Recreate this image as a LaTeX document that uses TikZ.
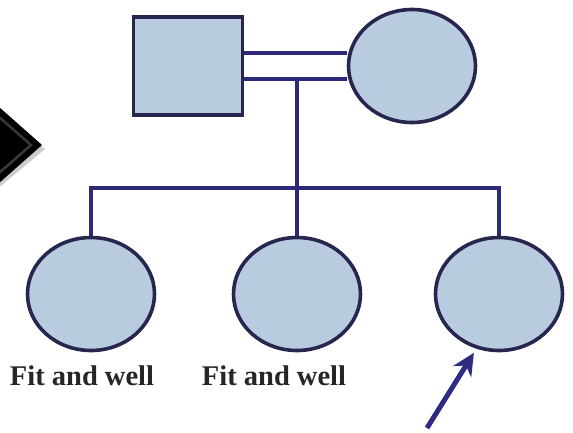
\documentclass[tikz,border=0pt]{standalone}
\usepackage{fontspec}
\setmainfont{Liberation Serif}
\usetikzlibrary{shapes.geometric,arrows.meta,backgrounds,calc}
\definecolor{pedfill}{HTML}{B9CCDF}
\definecolor{pededge}{HTML}{26264F}
\definecolor{pedline}{HTML}{2C2A78}
\definecolor{pointer}{HTML}{2E2C82}
\begin{document}
\begin{tikzpicture}[x=1pt,y=-1pt,
  person/.style={draw=pededge, fill=pedfill, line width=3.6pt, inner sep=0pt},
  female/.style={person, ellipse, minimum width=127pt, minimum height=113pt},
  male/.style={person, rectangle, minimum width=109pt, minimum height=98pt},
  link/.style={draw=pedline, line width=3.6pt},
  caption/.style={font=\bfseries\fontsize{28.5}{32}\selectfont, text=black!85, inner sep=0pt, anchor=base},
  pointerarrow/.style={draw=pointer, line width=5pt, -{Stealth[length=22pt,width=21pt,inset=7pt]}}]
  \begin{scope}[on background layer]
    \fill[white] (0,0) rectangle (573,432);
  \end{scope}
  \useasboundingbox (0,0) rectangle (573,432);

  % navigation chevron at the left edge
  \begin{scope}
    \clip (0,0) rectangle (573,432);
    \fill[gray!40] (-10,103) -- (45,149) -- (-10,195) -- cycle;
    \fill[black] (-10,99) -- (42,145) -- (-10,191) -- cycle;
    \draw[black!78, line width=2.5pt] (-10,109) -- (31,145) -- (-10,181);
  \end{scope}

  % parents
  \node[male]   (father) at (188,66) {};
  \node[female] (mother) at (412,66) {};

  % children
  \node[female] (child1) at (91,294) {};
  \node[female] (child2) at (297,294) {};
  \node[female] (child3) at (499,294) {};

  % captions
  \node[caption] (cap1) at (82,385) {Fit and well};
  \node[caption] (cap2) at (274,385) {Fit and well};

  % connecting lines, kept behind the symbols
  \coordinate (union) at ([yshift=-13pt]$(father.east)!0.5!(mother.west)$);
  \coordinate (sib) at (child2.north |- 0,188);
  \begin{scope}[on background layer]
    \draw[link] ([yshift=13pt]father.east) -- ([yshift=13pt]mother.west);
    \draw[link] ([yshift=-13pt]father.east) -- ([yshift=-13pt]mother.west);
    \draw[link] (union -| sib) -- (sib);
    \draw[link, line join=miter] (child1.north) -- (child1.north |- sib) -- (child3.north |- sib) -- (child3.north);
    \draw[link] (sib) -- (child2.north);
  \end{scope}

  % proband pointer
  \coordinate (tail) at (427,428);
  \draw[pointerarrow] (tail) -- ([yshift=-5pt]child3.-115);
\end{tikzpicture}
\end{document}
